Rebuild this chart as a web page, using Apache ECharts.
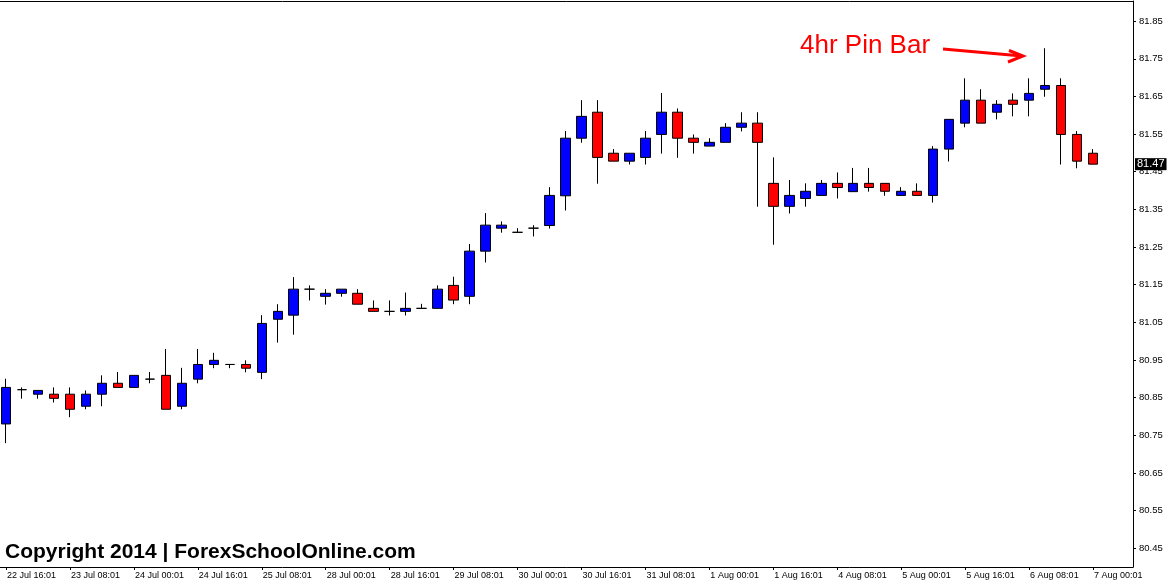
<!DOCTYPE html>
<html>
<head>
<meta charset="utf-8">
<script src="https://cdn.jsdelivr.net/npm/echarts@6/dist/echarts.min.js"></script>
<style>
html,body{margin:0;padding:0;background:#fff;}
#chart{width:1174px;height:583px;}
</style>
</head>
<body>
<div id="chart"></div>
<script>
// 4-hour bar times
const times = [
  '22 Jul 16:01','22 Jul 20:01',
  '23 Jul 00:01','23 Jul 04:01','23 Jul 08:01','23 Jul 12:01','23 Jul 16:01','23 Jul 20:01',
  '24 Jul 00:01','24 Jul 04:01','24 Jul 08:01','24 Jul 12:01','24 Jul 16:01','24 Jul 20:01',
  '25 Jul 00:01','25 Jul 04:01','25 Jul 08:01','25 Jul 12:01','25 Jul 16:01','25 Jul 20:01',
  '28 Jul 00:01','28 Jul 04:01','28 Jul 08:01','28 Jul 12:01','28 Jul 16:01','28 Jul 20:01',
  '29 Jul 00:01','29 Jul 04:01','29 Jul 08:01','29 Jul 12:01','29 Jul 16:01','29 Jul 20:01',
  '30 Jul 00:01','30 Jul 04:01','30 Jul 08:01','30 Jul 12:01','30 Jul 16:01','30 Jul 20:01',
  '31 Jul 00:01','31 Jul 04:01','31 Jul 08:01','31 Jul 12:01','31 Jul 16:01','31 Jul 20:01',
  '1 Aug 00:01','1 Aug 04:01','1 Aug 08:01','1 Aug 12:01','1 Aug 16:01','1 Aug 20:01',
  '4 Aug 00:01','4 Aug 04:01','4 Aug 08:01','4 Aug 12:01','4 Aug 16:01','4 Aug 20:01',
  '5 Aug 00:01','5 Aug 04:01','5 Aug 08:01','5 Aug 12:01','5 Aug 16:01','5 Aug 20:01',
  '6 Aug 00:01','6 Aug 04:01','6 Aug 08:01','6 Aug 12:01','6 Aug 16:01','6 Aug 20:01',
  '7 Aug 00:01',
  // empty space to the right of the last bar
  '7 Aug 04:01','7 Aug 08:01'
];

const opens = [
  80.780,80.871,80.859,80.859,80.859,80.827,80.859,80.888,80.877,80.899,
  80.909,80.827,80.899,80.938,80.938,80.938,80.917,81.058,81.069,81.138,
  81.119,81.127,81.127,81.087,81.079,81.079,81.087,81.087,81.148,81.119,
  81.239,81.300,81.289,81.300,81.307,81.386,81.539,81.608,81.499,81.478,
  81.488,81.549,81.608,81.539,81.518,81.528,81.568,81.579,81.419,81.358,
  81.379,81.387,81.419,81.397,81.419,81.419,81.387,81.398,81.387,81.510,
  81.579,81.640,81.608,81.640,81.640,81.669,81.679,81.549,81.499
];
const closes = [
  80.877,80.871,80.869,80.848,80.819,80.859,80.888,80.877,80.909,80.899,
  80.819,80.888,80.938,80.949,80.938,80.928,81.047,81.079,81.138,81.138,
  81.127,81.138,81.098,81.079,81.079,81.087,81.087,81.138,81.109,81.239,
  81.308,81.308,81.289,81.300,81.387,81.539,81.597,81.488,81.478,81.499,
  81.539,81.608,81.539,81.528,81.528,81.568,81.579,81.528,81.358,81.387,
  81.398,81.419,81.408,81.419,81.408,81.398,81.398,81.387,81.510,81.589,
  81.640,81.579,81.629,81.629,81.658,81.679,81.549,81.478,81.470
];
const lows = [
  80.729,80.847,80.847,80.837,80.798,80.819,80.827,80.877,80.877,80.888,
  80.819,80.819,80.888,80.928,80.928,80.917,80.899,80.996,81.017,81.108,
  81.097,81.118,81.098,81.079,81.068,81.068,81.087,81.087,81.098,81.098,
  81.209,81.288,81.289,81.278,81.299,81.347,81.527,81.418,81.478,81.469,
  81.469,81.498,81.487,81.498,81.518,81.528,81.557,81.357,81.256,81.339,
  81.357,81.387,81.379,81.397,81.397,81.386,81.387,81.387,81.368,81.477,
  81.568,81.579,81.589,81.597,81.597,81.649,81.469,81.459,81.470
];
const highs = [
  80.900,80.877,80.869,80.877,80.877,80.869,80.909,80.918,80.909,80.918,
  80.979,80.929,80.979,80.969,80.938,80.949,81.069,81.098,81.170,81.148,
  81.138,81.138,81.138,81.108,81.108,81.129,81.099,81.148,81.171,81.258,
  81.340,81.318,81.300,81.308,81.409,81.558,81.640,81.640,81.510,81.499,
  81.558,81.659,81.618,81.549,81.539,81.579,81.608,81.608,81.488,81.428,
  81.419,81.428,81.448,81.460,81.460,81.419,81.409,81.419,81.518,81.589,
  81.698,81.669,81.640,81.658,81.698,81.778,81.698,81.558,81.510
];

const priceTicks = [80.45,80.55,80.65,80.75,80.85,80.95,81.05,81.15,81.25,81.35,81.45,81.55,81.65,81.75,81.85];

const annotationText = '4hr Pin Bar';
const copyrightText = 'Copyright 2014 | ForexSchoolOnline.com';

const candles = opens.map((o, i) => [o, closes[i], lows[i], highs[i]]);
const lastClose = closes[closes.length - 1];

const chart = echarts.init(document.getElementById('chart'), null, {renderer: 'canvas'});
chart.setOption({
  animation: false,
  backgroundColor: '#ffffff',
  grid: {
    left: -2, right: 41, top: 1, bottom: 16,
    outerBoundsMode: 'none',
    containLabel: false,
    show: false
  },
  xAxis: [{
    type: 'category',
    data: times,
    boundaryGap: true,
    axisLine: {lineStyle: {color: '#000', width: 1}},
    axisTick: {show: true, interval: 3, alignWithLabel: true, length: 3, lineStyle: {color: '#000'}},
    axisLabel: {
      interval: 3, align: 'left', margin: 4, color: '#000',
      fontFamily: 'Liberation Sans', fontSize: 9, padding: [0, 0, 0, 1]
    },
    splitLine: {show: false}
  }, {
    type: 'category',
    data: times,
    position: 'top',
    boundaryGap: true,
    axisLine: {show: true, onZero: false, lineStyle: {color: '#000', width: 1}},
    axisTick: {show: false},
    axisLabel: {show: false},
    splitLine: {show: false}
  }],
  yAxis: {
    type: 'value',
    position: 'right',
    min: 80.40,
    max: 81.9034,
    scale: true,
    axisLine: {show: true, lineStyle: {color: '#000', width: 1}},
    axisTick: {show: true, length: 3, lineStyle: {color: '#000'}, customValues: priceTicks},
    axisLabel: {
      color: '#000', fontFamily: 'Liberation Sans', fontSize: 9.5, margin: 6,
      customValues: priceTicks,
      formatter: v => v.toFixed(2)
    },
    splitLine: {show: false}
  },
  series: [{
    type: 'candlestick',
    data: candles,
    barWidth: 10,
    clip: false,
    itemStyle: {
      color: '#0000FF', color0: '#FF0000',
      borderColor: '#000', borderColor0: '#000', borderColorDoji: '#000',
      borderWidth: 1
    },
    markLine: {
      silent: true,
      symbol: ['none', 'none'],
      lineStyle: {color: 'rgba(0,0,0,0)', width: 1, type: 'solid'},
      label: {
        show: true, position: 'end', distance: 2,
        formatter: () => lastClose.toFixed(2),
        backgroundColor: '#000', color: '#fff',
        fontFamily: 'Liberation Sans', fontSize: 11, padding: [1, 2, 0, 2]
      },
      emphasis: {disabled: true},
      data: [{yAxis: lastClose}]
    }
  }],
  graphic: [
    {
      type: 'text', left: 800, top: 33, silent: true,
      style: {text: annotationText, fill: '#FF0000', fontFamily: 'Liberation Sans', fontSize: 26}
    },
    {
      type: 'polyline', silent: true,
      shape: {points: [[943, 49], [1022, 56]]},
      style: {stroke: '#FF0000', lineWidth: 3, fill: null}
    },
    {
      type: 'polyline', silent: true,
      shape: {points: [[1009, 50.5], [1023, 56], [1008, 62]]},
      style: {stroke: '#FF0000', lineWidth: 3, fill: null}
    },
    {
      type: 'text', left: 5, top: 542, silent: true,
      style: {text: copyrightText, fill: '#000', fontFamily: 'Liberation Sans', fontWeight: 'bold', fontSize: 21}
    }
  ]
});
</script>
</body>
</html>
